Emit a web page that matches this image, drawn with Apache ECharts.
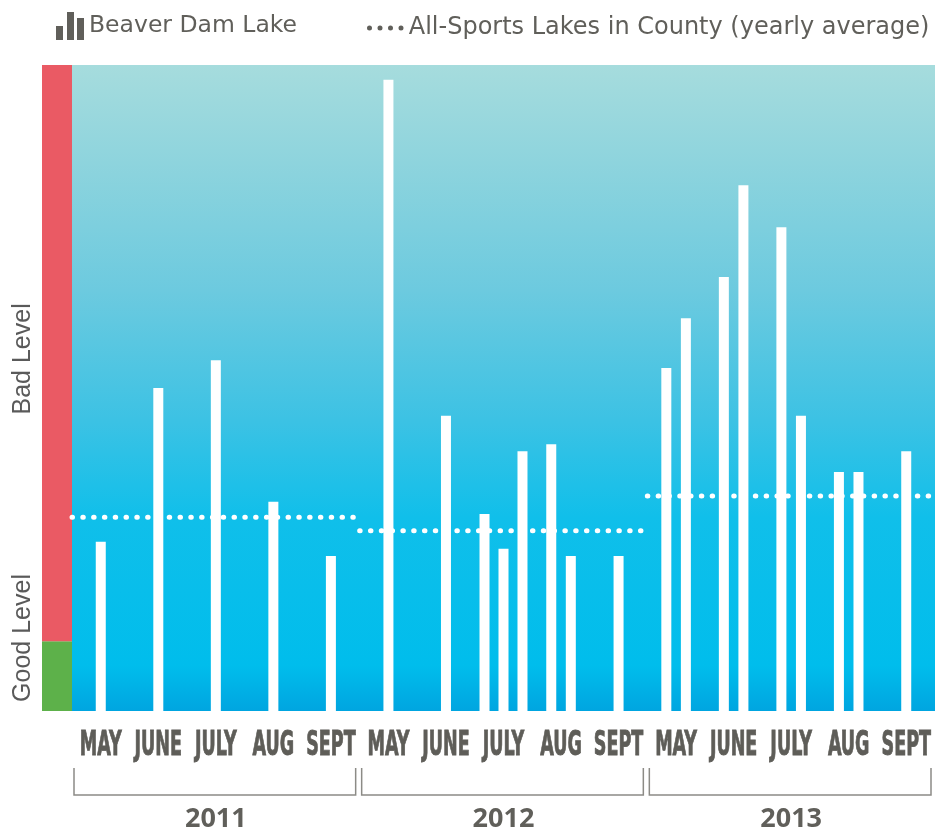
<!DOCTYPE html>
<html>
<head>
<meta charset="utf-8">
<script src="https://cdn.jsdelivr.net/npm/echarts@6/dist/echarts.min.js"></script>
<style>
html,body{margin:0;padding:0;background:#fff}
#main{width:935px;height:833px}
</style>
</head>
<body>
<div id="main"></div>
<script>
// month names under the axis (same for every year)
var months = ['MAY', 'JUNE', 'JULY', 'AUG', 'SEPT'];
var years = ['2011', '2012', '2013'];

// where each sample sits: month slot (0 = May 2011) + fraction of that month
var samplePos = [0.5, 1.5, 2.5, 3.5, 4.5,
    5.5, 6.5, 7.17, 7.5, 7.83, 8.33, 8.67, 9.5,
    10.33, 10.67, 11.33, 11.67, 12.33, 12.67, 13.33, 13.67, 14.5];
// Beaver Dam Lake readings (relative scale 0-100)
var sampleValue = [26.2, 50.0, 54.3, 32.4, 24.0,
    97.7, 45.7, 30.5, 25.1, 40.2, 41.3, 24.0, 24.0,
    53.1, 60.8, 67.2, 81.4, 74.9, 45.7, 37.0, 37.0, 40.2];
// county average for each year
var yearAvg = [30.0, 27.9, 33.3];
// good / bad band
var goodLevel = 10.8;
var maxLevel = 100;

var barName = 'Beaver Dam Lake';
var avgName = 'All-Sports Lakes in County (yearly average)';
var grey = '#605f5a';

var myChart = echarts.init(document.getElementById('main'));

var barData = samplePos.map(function (x, i) { return [x, sampleValue[i]]; });

var monthLabels = [];
years.forEach(function () { monthLabels = monthLabels.concat(months); });
var monthData = monthLabels.map(function (m, i) { return [i]; });
var yearData = years.map(function (y, i) { return [i]; });

var nMonths = months.length;

// one dotted segment per year
var avgSeries = yearAvg.map(function (v, k) {
    return {
        name: avgName,
        type: 'line',
        xAxisIndex: 0,
        yAxisIndex: 0,
        symbol: 'none',
        silent: true,
        z: 5,
        data: [[k * nMonths, v], [(k + 1) * nMonths, v]],
        itemStyle: {color: '#fff'},
        lineStyle: {color: '#fff', width: 5, type: [0.5, 10.3], cap: 'round'}
    };
});

var barsIcon = 'path://M0,14h7v14h-7z M11,0h7v28h-7z M21,6h7v22h-7z';
var dotsIcon = 'path://M0,2.5a2.5,2.5 0 1,0 5,0a2.5,2.5 0 1,0 -5,0z M10.5,2.5a2.5,2.5 0 1,0 5,0a2.5,2.5 0 1,0 -5,0z M21,2.5a2.5,2.5 0 1,0 5,0a2.5,2.5 0 1,0 -5,0z M31.5,2.5a2.5,2.5 0 1,0 5,0a2.5,2.5 0 1,0 -5,0z';

var option = {
    animation: false,
    backgroundColor: '#fff',
    legend: [
        {
            data: [{name: barName, icon: barsIcon}],
            left: 51, top: 7,
            itemWidth: 28, itemHeight: 28,
            itemStyle: {color: grey},
            textStyle: {fontFamily: 'DejaVu Sans', fontSize: 23.5, color: grey},
            selectedMode: false
        },
        {
            data: [{name: avgName, icon: dotsIcon}],
            left: 362, top: 11,
            itemWidth: 37, itemHeight: 5,
            itemStyle: {color: grey},
            textStyle: {fontFamily: 'DejaVu Sans', fontSize: 24, color: grey},
            selectedMode: false
        }
    ],
    grid: [
        {
            left: 72, right: 0, top: 65, bottom: 122,
            show: true, borderWidth: 0,
            backgroundColor: new echarts.graphic.LinearGradient(0, 0, 0, 1, [
                {offset: 0, color: '#a6dcdd'},
                {offset: 0.15, color: '#8ed4dd'},
                {offset: 0.35, color: '#6ccadf'},
                {offset: 0.55, color: '#3cc2e4'},
                {offset: 0.7, color: '#10bfea'},
                {offset: 0.93, color: '#00bdec'},
                {offset: 1, color: '#00a5e0'}
            ])
        },
        {left: 42, width: 30, top: 65, bottom: 122}
    ],
    xAxis: [
        {type: 'value', gridIndex: 0, min: 0, max: years.length * nMonths, show: false},
        {type: 'category', gridIndex: 1, data: ['level'], show: false}
    ],
    yAxis: [
        {type: 'value', gridIndex: 0, min: 0, max: maxLevel, show: false},
        {type: 'value', gridIndex: 1, min: 0, max: maxLevel, show: false}
    ],
    series: [
        {
            name: barName,
            type: 'bar',
            xAxisIndex: 0,
            yAxisIndex: 0,
            barWidth: 10,
            silent: true,
            itemStyle: {color: '#fff'},
            data: barData
        }
    ].concat(avgSeries).concat([
        // good / bad band on the left
        {
            type: 'bar', xAxisIndex: 1, yAxisIndex: 1, stack: 'lvl', barWidth: '100%', silent: true,
            itemStyle: {color: '#5db14a'},
            label: {
                show: true, formatter: 'Good Level', rotate: 90,
                position: [-19, '87%'], align: 'left', verticalAlign: 'middle',
                fontFamily: 'Liberation Sans', fontSize: 25, color: '#5a5a5a'
            },
            data: [goodLevel]
        },
        {
            type: 'bar', xAxisIndex: 1, yAxisIndex: 1, stack: 'lvl', barWidth: '100%', silent: true,
            itemStyle: {color: '#ea5a64'},
            label: {
                show: true, formatter: 'Bad Level', rotate: 90,
                position: [-19, '51%'], align: 'center', verticalAlign: 'middle',
                fontFamily: 'Liberation Sans', fontSize: 25, color: '#5a5a5a'
            },
            data: [maxLevel - goodLevel]
        },
        // month names
        {
            type: 'custom',
            xAxisIndex: 0, yAxisIndex: 0,
            silent: true, clip: false,
            data: monthData,
            renderItem: function (params, api) {
                var i = api.value(0);
                var p = api.coord([i + 0.5, 0]);
                return {
                    type: 'text',
                    x: p[0], y: p[1] + 35,
                    scaleX: 0.65, scaleY: 1.1,
                    style: {
                        text: monthLabels[params.dataIndex],
                        font: 'bold 30px "Liberation Sans Narrow", "DejaVu Sans Condensed", sans-serif',
                        fill: '#5e5d58',
                        stroke: '#5e5d58',
                        lineWidth: 0.8,
                        align: 'center',
                        verticalAlign: 'middle'
                    }
                };
            }
        },
        // year brackets
        {
            type: 'custom',
            xAxisIndex: 0, yAxisIndex: 0,
            silent: true, clip: false,
            data: yearData,
            renderItem: function (params, api) {
                var k = api.value(0);
                var a = api.coord([k * nMonths, 0]);
                var b = api.coord([(k + 1) * nMonths, 0]);
                var x0 = a[0] + 2, x1 = b[0] - 4;
                var y0 = a[1] + 57, y1 = a[1] + 84;
                return {
                    type: 'group',
                    children: [
                        {
                            type: 'polyline',
                            shape: {points: [[x0, y0], [x0, y1], [x1, y1], [x1, y0]]},
                            style: {stroke: '#8c8b86', lineWidth: 1.5, fill: null}
                        },
                        {
                            type: 'text',
                            x: (a[0] + b[0]) / 2, y: a[1] + 108,
                            style: {
                                text: years[params.dataIndex],
                                font: 'bold 27px "Open Sans", sans-serif',
                                fill: grey,
                                align: 'center',
                                verticalAlign: 'middle'
                            }
                        }
                    ]
                };
            }
        }
    ])
};

myChart.setOption(option);
</script>
</body>
</html>
